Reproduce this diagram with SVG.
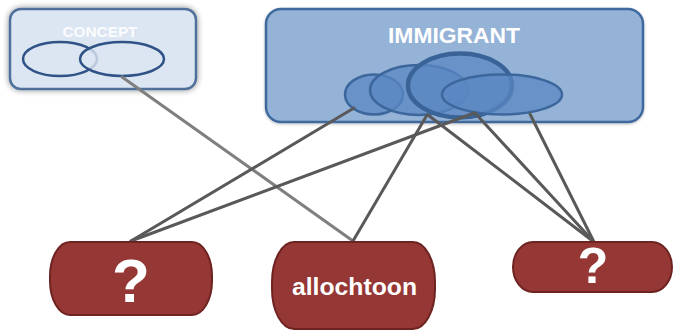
<svg xmlns="http://www.w3.org/2000/svg" width="673" height="331" viewBox="0 0 673 331">
  <defs>
    <filter id="glow" x="-20%" y="-30%" width="140%" height="160%">
      <feGaussianBlur in="SourceAlpha" stdDeviation="3"/>
      <feComponentTransfer><feFuncA type="linear" slope="0.45"/></feComponentTransfer>
      <feMerge><feMergeNode/><feMergeNode in="SourceGraphic"/></feMerge>
    </filter>
    <filter id="soft" x="-10%" y="-20%" width="120%" height="140%">
      <feGaussianBlur in="SourceAlpha" stdDeviation="1.5"/>
      <feOffset dx="0" dy="1"/>
      <feComponentTransfer><feFuncA type="linear" slope="0.25"/></feComponentTransfer>
      <feMerge><feMergeNode/><feMergeNode in="SourceGraphic"/></feMerge>
    </filter>
  </defs>
  <style>
    .lbl { font-family: "Liberation Sans", Arial, sans-serif; font-weight: bold; fill: #ffffff; text-anchor: middle; }
    .set { fill: #5b87c3; fill-opacity: 0.75; stroke: #3b679c; stroke-width: 2.5; }
    .set.main { stroke: #3a6497; stroke-width: 4.5; }
    .cset { fill: #dce6f2; stroke: #2f5386; stroke-width: 2.5; }
    .term { fill: #953735; stroke: #6e2320; stroke-width: 2; }
    .link { stroke: #595959; stroke-width: 3; fill: none; stroke-linecap: round; }
    .link-light { stroke: #7f7f7f; stroke-width: 3; fill: none; stroke-linecap: round; }
  </style>

  <!-- generic concept box -->
  <g id="concept">
    <rect x="10" y="9" width="186" height="80" rx="11" fill="#dce6f2" stroke="#4f6f9a" stroke-width="2.5" filter="url(#glow)"/>
    <text class="lbl" x="100" y="37" font-size="15" textLength="75" lengthAdjust="spacingAndGlyphs" fill-opacity="0.9">CONCEPT</text>
    <ellipse class="cset" cx="60" cy="59" rx="37" ry="17"/>
    <ellipse class="cset" cx="122" cy="59" rx="42" ry="17" fill-opacity="0.8"/>
  </g>

  <!-- immigrant box with overlapping meanings -->
  <g id="immigrant">
    <rect x="266" y="9" width="377" height="113" rx="15" fill="#95b3d7" stroke="#3f6a9e" stroke-width="2.5" filter="url(#soft)"/>
    <text class="lbl" x="454" y="43" font-size="22" textLength="132" lengthAdjust="spacingAndGlyphs">IMMIGRANT</text>
    <ellipse class="set" cx="374" cy="94.5" rx="29" ry="20"/>
    <ellipse class="set" cx="419" cy="90" rx="49" ry="25"/>
    <ellipse class="set main" cx="460" cy="85.5" rx="52" ry="32"/>
    <ellipse class="set" cx="502" cy="94.5" rx="60" ry="20"/>
  </g>

  <!-- connectors -->
  <g id="connectors">
    <line class="link-light" x1="122" y1="77" x2="353" y2="241"/>
    <line class="link" x1="354" y1="108" x2="131" y2="241"/>
    <line class="link" x1="474" y1="113" x2="131" y2="241"/>
    <line class="link" x1="427" y1="115" x2="353" y2="241"/>
    <line class="link" x1="428" y1="115" x2="594" y2="242"/>
    <line class="link" x1="475" y1="113" x2="594" y2="242"/>
    <line class="link" x1="530" y1="114" x2="594" y2="242"/>
  </g>

  <!-- terms -->
  <g id="term-left">
    <rect class="term" x="50" y="242" width="162" height="73" rx="20" ry="34"/>
    <text class="lbl" x="131" y="302" font-size="62">?</text>
  </g>
  <g id="term-allochtoon">
    <rect class="term" x="272" y="242" width="163" height="87" rx="22" ry="40"/>
    <text class="lbl" x="354.5" y="295" font-size="24" textLength="125" lengthAdjust="spacingAndGlyphs">allochtoon</text>
  </g>
  <g id="term-right">
    <rect class="term" x="513" y="242" width="159" height="50" rx="20" ry="25"/>
    <text class="lbl" x="593" y="283" font-size="50">?</text>
  </g>
</svg>
